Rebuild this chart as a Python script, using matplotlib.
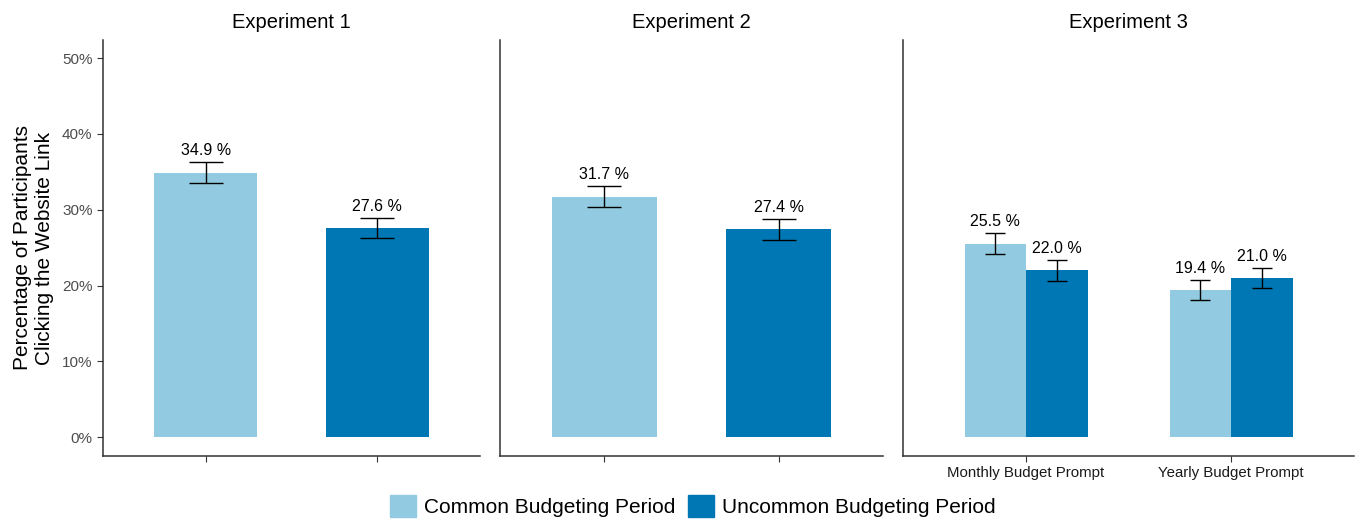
import numpy as np
import matplotlib
matplotlib.use("Agg")
import matplotlib.pyplot as plt
from matplotlib.patches import Patch

plt.rcParams['font.family'] = ['Liberation Sans', 'DejaVu Sans']

# data
panels = ['Experiment 1', 'Experiment 2', 'Experiment 3']
groups3 = ['Monthly Budget Prompt', 'Yearly Budget Prompt']
common = [34.9, 31.7, 25.5, 19.4]
common_err = [1.4, 1.4, 1.4, 1.3]
uncommon = [27.6, 27.4, 22.0, 21.0]
uncommon_err = [1.3, 1.35, 1.35, 1.3]
yticks = [0, 10, 20, 30, 40, 50]

c_light = '#92CBE1'
c_dark = '#0077B5'

W, H = 1361, 519
fig = plt.figure(figsize=(W / 100, H / 100), dpi=100)

# axes boxes in pixels (left, right)
boxes = [(103, 480), (500, 883), (903, 1354)]
top_px, bot_px = 40, 456
axes = []
for (l, r) in boxes:
    ax = fig.add_axes([l / W, (H - bot_px) / H, (r - l) / W, (bot_px - top_px) / H])
    axes.append(ax)

def style(ax, first):
    ax.set_xlim(0.4, 2.6)
    ax.set_ylim(-2.5, 52.4)
    for s in ['top', 'right']:
        ax.spines[s].set_visible(False)
    for s in ['left', 'bottom']:
        ax.spines[s].set_color('#333333')
        ax.spines[s].set_linewidth(1.1)
    ax.set_yticks(yticks)
    if first:
        ax.set_yticklabels([f'{v}%' for v in yticks], fontsize=11, color='#4d4d4d')
        ax.tick_params(axis='y', length=4, color='#333333')
    else:
        ax.tick_params(axis='y', length=0, labelleft=False)
    ax.tick_params(axis='x', length=4, color='#333333')

ekw = dict(fmt='none', ecolor='black', elinewidth=1.0, capthick=1.0)

# experiments 1 and 2
for i in range(2):
    ax = axes[i]
    ax.bar([1], [common[i]], width=0.6, color=c_light)
    ax.bar([2], [uncommon[i]], width=0.6, color=c_dark)
    ax.errorbar([1], [common[i]], yerr=[common_err[i]], capsize=12.2, **ekw)
    ax.errorbar([2], [uncommon[i]], yerr=[uncommon_err[i]], capsize=12.2, **ekw)
    ax.text(1, common[i] + common_err[i] + 0.5, f'{common[i]:.1f} %', ha='center', va='bottom', fontsize=11.5)
    ax.text(2, uncommon[i] + uncommon_err[i] + 0.5, f'{uncommon[i]:.1f} %', ha='center', va='bottom', fontsize=11.5)
    style(ax, i == 0)
    ax.set_xticks([1, 2])
    ax.set_xticklabels(['', ''])
    ax.set_title(panels[i], fontsize=14.5, pad=9)

# experiment 3
ax = axes[2]
x = np.array([1, 2])
ax.bar(x - 0.15, common[2:], width=0.3, color=c_light)
ax.bar(x + 0.15, uncommon[2:], width=0.3, color=c_dark)
ax.errorbar(x - 0.15, common[2:], yerr=common_err[2:], capsize=7.2, **ekw)
ax.errorbar(x + 0.15, uncommon[2:], yerr=uncommon_err[2:], capsize=7.2, **ekw)
for xi, v, e in zip(x - 0.15, common[2:], common_err[2:]):
    ax.text(xi, v + e + 0.5, f'{v:.1f} %', ha='center', va='bottom', fontsize=11.5)
for xi, v, e in zip(x + 0.15, uncommon[2:], uncommon_err[2:]):
    ax.text(xi, v + e + 0.5, f'{v:.1f} %', ha='center', va='bottom', fontsize=11.5)
style(ax, False)
ax.set_xticks(x)
ax.set_xticklabels(groups3, fontsize=10.8, color='#1a1a1a')
ax.set_title(panels[2], fontsize=14.5, pad=9)

axes[0].set_ylabel('Percentage of Participants\nClicking the Website Link', fontsize=15, labelpad=6, linespacing=1.2)

handles = [Patch(color=c_light, label='Common Budgeting Period'),
           Patch(color=c_dark, label='Uncommon Budgeting Period')]
fig.legend(handles=handles, loc='center', bbox_to_anchor=(693 / W, 1 - 506 / H), ncol=2,
           frameon=False, fontsize=15, handlelength=1.25, handleheight=1.2,
           handletextpad=0.4, columnspacing=0.6)

fig.savefig('out.png', dpi=100)
